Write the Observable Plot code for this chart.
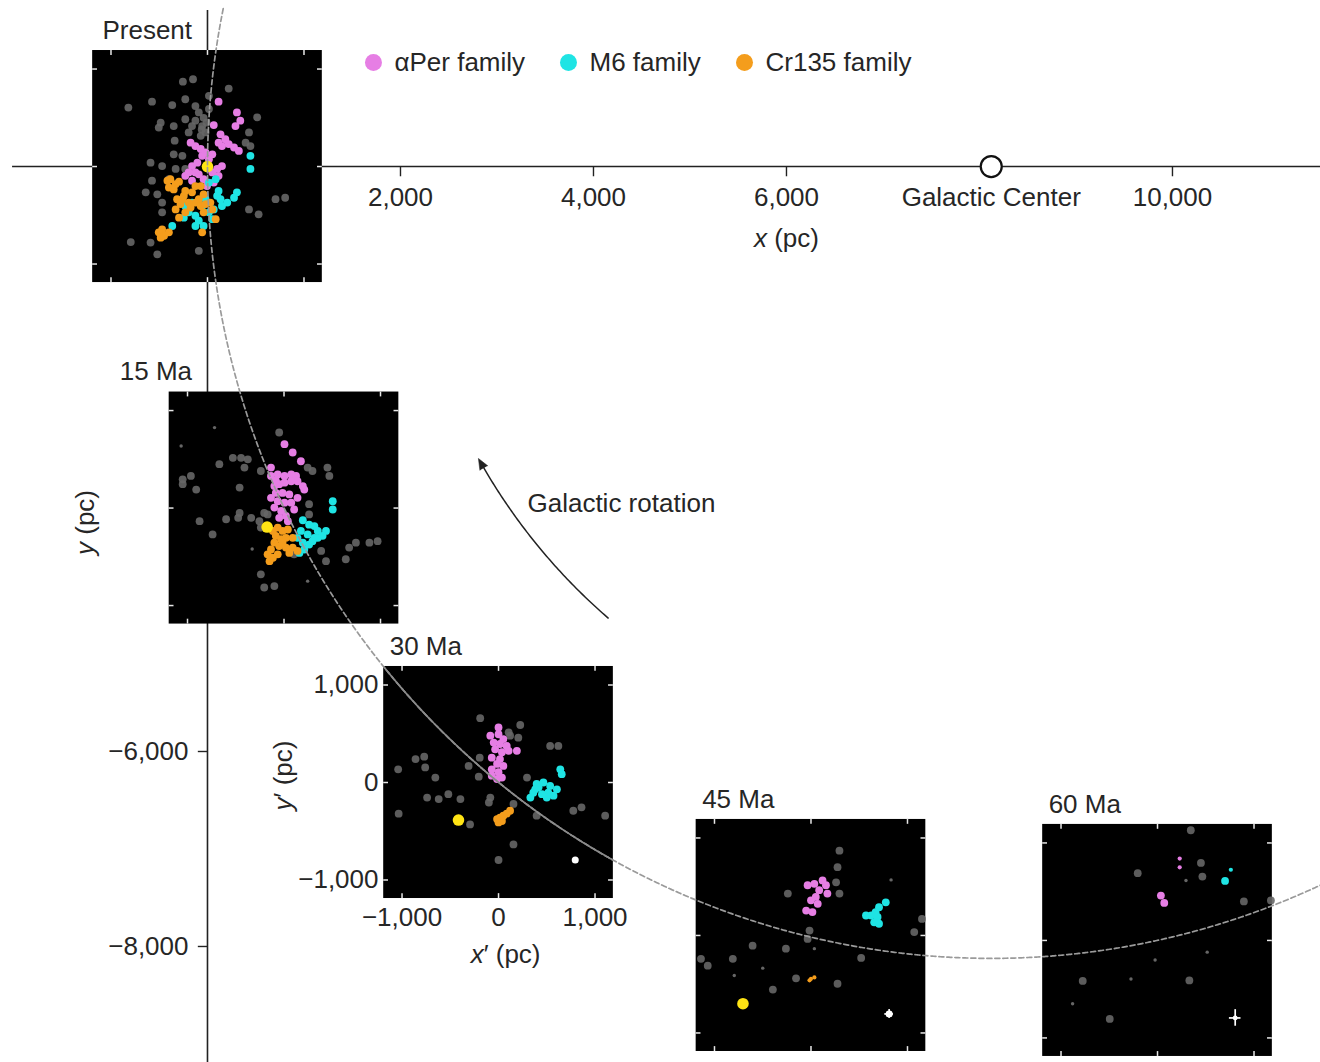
<!DOCTYPE html>
<html><head><meta charset="utf-8">
<script src="https://cdn.jsdelivr.net/npm/d3@7"></script>
<script src="https://cdn.jsdelivr.net/npm/@observablehq/plot@0.6"></script>
<style>
html,body{margin:0;padding:0;background:#fff}
#chart svg{display:block}
</style>
</head><body><div id="chart"></div>
<script>
// ---------------- DATA ----------------
const epochs = ["Present", "15 Ma", "30 Ma", "45 Ma", "60 Ma"];
// inset centres = Sun's position on its orbit at each epoch (pc)
const centerX = [0, 793, 3016, 6254, 9845];
const centerY = [0, -3503, -6318, -7887, -7938];
const galacticCenterX = 8122;           // Sun–GC distance (pc)
const xTicks = [2000, 4000, 6000, 10000];
const yTicks = [-6000, -8000];
const insetTicks = [-1000, 0, 1000];
const families = ["αPer family", "M6 family", "Cr135 family"];

// inset star positions x', y' (pc) per epoch
const field0 = [[-255,870],[-150,895],[-820,605],[-575,665],[-365,630],[-230,690],[220,800],[-485,450],[-505,400],[-350,415],[-230,485],[-125,620],[-90,555],[-160,415],[-55,415],[-20,350],[-70,315],[-195,350],[-125,470],[15,590],[15,725],[515,505],[430,350],[445,210],[395,245],[-340,265],[-350,125],[-260,110],[-590,40],[-470,5],[-575,-145],[-640,-265],[-520,-285],[-470,-370],[-470,-470],[705,-335],[805,-320],[430,-440],[530,-490],[-795,-775],[-590,-780],[-520,-900],[-90,-865],[-330,-25],[-230,-25],[-400,-130],[-40,500],[-10,450],[-60,380]];
const aPer0 = [[115,665],[305,555],[340,470],[290,415],[65,425],[135,330],[185,280],[220,230],[275,195],[325,160],[150,210],[115,245],[-175,245],[-125,210],[-70,180],[-20,145],[50,125],[15,75],[-105,40],[-160,5],[-125,-60],[-195,-60],[-90,-80],[-40,-130],[50,-60],[100,-25],[150,5],[115,-95],[65,-165],[-5,-200],[-55,110],[-230,-95],[-160,-145]];
const m6_0 = [[445,110],[445,-25],[115,-250],[100,-300],[135,-335],[305,-265],[275,-320],[205,-370],[150,-405],[65,-440],[15,-470],[-55,-405],[-160,-370],[-230,-405],[-195,-470],[-125,-505],[-90,-555],[-125,-610],[-40,-610],[-20,-335],[85,-130],[15,-165],[-365,-610],[-245,-525],[50,-540]];
const cr135_0 = [[-415,-145],[-385,-130],[-330,-180],[-295,-155],[-400,-215],[-350,-235],[-230,-250],[-245,-300],[-160,-265],[-90,-335],[-40,-285],[-125,-370],[-195,-370],[-260,-335],[-315,-335],[-330,-440],[-280,-385],[-175,-420],[-70,-405],[-20,-385],[30,-370],[50,-440],[-40,-470],[-295,-525],[-230,-470],[85,-540],[-470,-645],[-505,-675],[-450,-710],[-485,-730],[-400,-675],[-55,-675],[-70,-200],[-125,-200]];

const field1 = [[-1050,295],[-1050,245],[-965,330],[-910,190],[-670,450],[-530,515],[-445,515],[-375,500],[-410,415],[-460,210],[-240,380],[-50,775],[245,415],[295,380],[450,415],[470,330],[-875,-135],[-600,-115],[-460,-50],[-475,-100],[-340,-100],[-740,-270],[-255,-135],[-240,-200],[-170,-65],[-205,-50],[260,40],[260,-65],[385,-440],[435,-545],[640,-525],[745,-355],[885,-355],[970,-340],[675,-405],[-240,-680],[-205,-815],[-100,-800],[105,-475]];
const fieldSmall1 = [[-720,825],[-1066,636],[245,-750],[-330,-420]];
const aPer1 = [[5,655],[90,570],[175,480],[-135,415],[-135,330],[-65,345],[5,330],[75,345],[125,330],[140,275],[75,275],[5,260],[-50,245],[-100,225],[195,225],[210,190],[-85,155],[-15,155],[55,140],[-135,105],[-65,70],[5,55],[75,55],[105,-15],[-100,5],[-30,-30],[20,-80],[-50,-100],[40,-135],[140,105],[-85,280]];
const m6_1 = [[505,70],[505,-15],[195,-125],[260,-170],[315,-185],[350,-235],[435,-235],[400,-285],[315,-305],[245,-270],[175,-235],[140,-305],[195,-355],[260,-375],[210,-425],[160,-460],[350,-305],[295,-340]];
const cr135_1 = [[-115,-235],[-65,-200],[-15,-235],[40,-220],[-85,-285],[-30,-320],[20,-305],[90,-305],[-100,-355],[-50,-390],[20,-405],[90,-405],[140,-440],[55,-460],[-135,-425],[-170,-475],[-115,-510],[-150,-545],[-65,-475],[-15,-355]];

const field2 = [[-190,660],[225,590],[105,515],[205,460],[535,375],[620,375],[-860,240],[-770,265],[-760,155],[-1040,135],[-310,170],[-195,255],[-205,60],[-655,50],[295,50],[-740,-155],[-620,-170],[-520,-120],[-395,-170],[-85,-155],[-100,-205],[-1035,-320],[-295,-430],[155,-220],[395,-340],[775,-290],[860,-255],[1105,-340],[155,-635],[0,-795],[120,480]];
const aPer2 = [[0,565],[0,495],[-85,480],[50,445],[-50,410],[15,395],[85,375],[-35,340],[35,310],[105,325],[190,325],[-70,255],[15,240],[-15,190],[50,170],[-70,135],[0,105],[-70,70],[35,50],[-15,35]];
const m6_2 = [[640,135],[655,85],[395,-15],[465,0],[535,-35],[605,-70],[515,-105],[450,-120],[360,-105],[330,-155],[415,-50],[570,-135],[500,-155],[380,-70]];
const cr135_2 = [[120,-290],[85,-320],[50,-340],[15,-360],[0,-410],[35,-395],[-15,-375]];

const field3 = [[295,870],[275,700],[260,545],[295,430],[-240,430],[1150,170],[1070,35],[-15,50],[-35,-35],[-605,-105],[-260,-135],[-810,-240],[-1140,-240],[-1070,-310],[520,-230],[-155,-440],[275,-495],[-395,-555]];
const fieldSmall3 = [[830,570],[35,-135],[-500,-335],[-795,-410]];
const aPer3 = [[-35,515],[35,530],[120,565],[155,515],[85,465],[170,430],[50,395],[0,360],[70,325],[15,240],[-50,255]];
const m6_3 = [[775,340],[705,290],[670,240],[625,205],[690,190],[655,135],[705,120],[570,205]];
const cr135Small3 = [[0,-445],[35,-430],[-15,-460]];

const field4 = [[345,1130],[450,795],[465,655],[-205,690],[895,400],[1175,410],[-775,-415],[330,-410],[-495,-805]];
const fieldSmall4 = [[515,-120],[-880,-650],[-275,-395],[295,615],[-25,-200]];
const aPer4 = [[35,460],[70,385]];
const aPerSmall4 = [[230,840],[230,750]];
const m6_4 = [[700,610]];
const m6Small4 = [[760,725]];

// the Sun in the co-rotating frame (yellow)
const sunEpoch = [0, 1, 2, 3];
const sunDX = [0, -175, -415, -705];
const sunDY = [0, -195, -385, -700];

// typical uncertainty markers (white)
const errEpoch = [2, 3, 4];
const errDX = [795, 810, 805];
const errDY = [-795, -805, -795];
const errHalfX = [0, 45, 60];
const errHalfY = [0, 45, 85];

// ---------------- LAYOUT / STYLE ----------------
const W = 1320, H = 1062;
const X_DOMAIN = [-2145, 11534];
const Y_DOMAIN = [-9190, 1703];
const HALF = 1190;          // inset half size (pc)
const ITICK = 50;           // inset tick length (pc)
const FONT = 26;
const TXT = "#262626";
const COL = {field: "#666666", aPer: "#e67ee4", m6: "#1fe4e4", cr135: "#f49d1c", sun: "#ffe414"};
const DOT_R = 3.9;
const legendX = [1720, 3741, 5565];
const legendY = 1067;
const fmt = d3.format(",");

function pts(arr, e) { return arr.map(([dx, dy]) => ({e, dx, dy})); }
const px = d => centerX[d.e] + d.dx;
const py = d => centerY[d.e] + d.dy;

const fieldAll = [...pts(field0,0), ...pts(field1,1), ...pts(field2,2), ...pts(field3,3), ...pts(field4,4)];
const fieldSmallAll = [...pts(fieldSmall1,1), ...pts(fieldSmall3,3), ...pts(fieldSmall4,4)];
const aPerAll = [...pts(aPer0,0), ...pts(aPer1,1), ...pts(aPer2,2), ...pts(aPer3,3), ...pts(aPer4,4)];
const m6All = [...pts(m6_0,0), ...pts(m6_1,1), ...pts(m6_2,2), ...pts(m6_3,3), ...pts(m6_4,4)];
const cr135All = [...pts(cr135_0,0), ...pts(cr135_1,1), ...pts(cr135_2,2)];
const smallColored = [
  ...pts(cr135Small3,3).map(d => ({...d, c: COL.cr135})),
  ...pts(aPerSmall4,4).map(d => ({...d, c: COL.aPer})),
  ...pts(m6Small4,4).map(d => ({...d, c: COL.m6}))
];
const sun = sunEpoch.map((e, i) => ({e, dx: sunDX[i], dy: sunDY[i]}));
const errs = errEpoch.map((e, i) => ({e, dx: errDX[i], dy: errDY[i], hx: errHalfX[i], hy: errHalfY[i]}));

// Sun's circular orbit around the Galactic Centre
const R0 = galacticCenterX;
const rad = a => a * Math.PI / 180;
const orbit = d3.range(168.5, 300, 0.1).map(a => ({x: galacticCenterX + R0 * Math.cos(rad(a)), y: R0 * Math.sin(rad(a))}));
const orbitIn30 = orbit.filter(p => Math.abs(p.x - centerX[2]) < HALF && Math.abs(p.y - centerY[2]) < HALF);
// rotation arrow arc (centred on the Galactic Centre)
const RA = 6100, A0 = 229.4, A1 = 209.4;
const arrowArc = d3.range(A0, A1 - 0.01, -0.25).map(a => ({x: galacticCenterX + RA * Math.cos(rad(a)), y: RA * Math.sin(rad(a))}));
const tip = arrowArc[arrowArc.length - 1];
// tangent direction at the tip (decreasing angle), as compass bearing in screen space
const tdx = Math.sin(rad(A1)), tdy = -Math.cos(rad(A1));
const tipRotate = Math.atan2(tdx, tdy) * 180 / Math.PI;
const arrowBody = arrowArc.slice(0, -3);

const ins = epochs.map((name, i) => ({i, name}));
const tickSpecs = ins.flatMap(d => insetTicks.map(o => ({i: d.i, o})));

const chart = Plot.plot({
  width: W, height: H, margin: 0,
  x: {domain: X_DOMAIN, axis: null},
  y: {domain: Y_DOMAIN, axis: null},
  style: {fontFamily: "'Liberation Sans', Arial, Helvetica, sans-serif", fontSize: FONT + "px", background: "#fff", color: TXT},
  marks: [
    // main axes
    Plot.ruleY([0], {x1: -2020, x2: X_DOMAIN[1], stroke: "#222", strokeWidth: 1.6}),
    Plot.ruleX([0], {y1: 1600, y2: Y_DOMAIN[0], stroke: "#222", strokeWidth: 1.6}),
    Plot.ruleX(xTicks, {x: d => d, y1: 0, y2: -105, stroke: "#222", strokeWidth: 1.4}),
    Plot.ruleY(yTicks, {y: d => d, x1: -95, x2: 0, stroke: "#222", strokeWidth: 1.4}),
    Plot.text(xTicks, {x: d => d, y: 0, text: d => fmt(d), dy: 31, fontSize: FONT, fill: TXT}),
    Plot.text(yTicks, {x: 0, y: d => d, text: d => fmt(d), dx: -19, textAnchor: "end", fontSize: FONT, fill: TXT}),
    Plot.text(["Galactic Center"], {x: galacticCenterX, y: 0, text: d => d, dy: 31, fontSize: FONT, fill: TXT}),
    Plot.text(["x (pc)"], {x: 6000, y: 0, text: d => d, dy: 72, fontSize: FONT, fill: TXT}),
    Plot.text(["y (pc)"], {x: -1264, y: -3651, text: d => d, rotate: -90, fontSize: FONT, fill: TXT}),

    // inset frames
    Plot.rect(ins, {x1: d => centerX[d.i] - HALF, x2: d => centerX[d.i] + HALF, y1: d => centerY[d.i] - HALF, y2: d => centerY[d.i] + HALF, fill: "black"}),
    Plot.ruleX(tickSpecs, {x: d => centerX[d.i] + d.o, y1: d => centerY[d.i] + HALF, y2: d => centerY[d.i] + HALF - ITICK, stroke: "#e8e8e8", strokeWidth: 1.5}),
    Plot.ruleX(tickSpecs, {x: d => centerX[d.i] + d.o, y1: d => centerY[d.i] - HALF, y2: d => centerY[d.i] - HALF + ITICK, stroke: "#e8e8e8", strokeWidth: 1.5}),
    Plot.ruleY(tickSpecs, {y: d => centerY[d.i] + d.o, x1: d => centerX[d.i] - HALF, x2: d => centerX[d.i] - HALF + ITICK, stroke: "#e8e8e8", strokeWidth: 1.5}),
    Plot.ruleY(tickSpecs, {y: d => centerY[d.i] + d.o, x1: d => centerX[d.i] + HALF, x2: d => centerX[d.i] + HALF - ITICK, stroke: "#e8e8e8", strokeWidth: 1.5}),

    // stars
    Plot.dot(fieldAll, {x: px, y: py, r: DOT_R, fill: COL.field, fillOpacity: 0.9}),
    Plot.dot(fieldSmallAll, {x: px, y: py, r: 1.7, fill: COL.field}),
    Plot.dot(aPerAll, {x: px, y: py, r: DOT_R, fill: COL.aPer}),
    Plot.dot(m6All, {x: px, y: py, r: DOT_R, fill: COL.m6}),
    Plot.dot(cr135All, {x: px, y: py, r: DOT_R, fill: COL.cr135}),
    Plot.dot(smallColored, {x: px, y: py, r: 2.1, fill: d => d.c}),
    Plot.dot(sun, {x: px, y: py, r: 5.8, fill: COL.sun}),
    Plot.ruleX(errs, {x: px, y1: d => py(d) - d.hy, y2: d => py(d) + d.hy, stroke: "white", strokeWidth: 1.7}),
    Plot.ruleY(errs, {y: py, x1: d => px(d) - d.hx, x2: d => px(d) + d.hx, stroke: "white", strokeWidth: 1.7}),
    Plot.dot(errs, {x: px, y: py, r: d => d.e === 4 ? 1.6 : 3.4, fill: "white"}),

    // orbit
    Plot.line(orbit, {x: "x", y: "y", stroke: "#9a9a9a", strokeWidth: 1.7, strokeDasharray: "5,3", clip: true}),
    Plot.line(orbitIn30, {x: "x", y: "y", stroke: "#8a8a8a", strokeWidth: 1.7}),

    // Galactic Centre marker
    Plot.dot([galacticCenterX], {x: d => d, y: 0, r: 10.5, fill: "white", stroke: "#111", strokeWidth: 2.2}),

    // epoch labels
    Plot.text(ins.filter(d => d.i < 2), {x: -160, y: d => centerY[d.i] + HALF + 205, text: "name", textAnchor: "end", fontSize: FONT, fill: TXT}),
    Plot.text(ins.filter(d => d.i >= 2), {x: d => centerX[d.i] - HALF + 62, y: d => centerY[d.i] + HALF + 205, text: "name", textAnchor: "start", fontSize: FONT, fill: TXT}),

    // 30 Ma inset axes labels
    Plot.text(insetTicks, {x: centerX[2] - 1244, y: d => centerY[2] + d, text: d => fmt(d), textAnchor: "end", fontSize: FONT, fill: TXT}),
    Plot.text(insetTicks, {x: d => centerX[2] + d, y: centerY[2] - 1390, text: d => fmt(d), fontSize: FONT, fill: TXT}),
    Plot.text(["x′ (pc)"], {x: centerX[2] + 73, y: centerY[2] - 1764, text: d => d, fontSize: FONT, fill: TXT}),
    Plot.text(["y′ (pc)"], {x: centerX[2] - 2228, y: centerY[2] + 72, text: d => d, rotate: -90, fontSize: FONT, fill: TXT}),

    // galactic rotation arrow
    Plot.line(arrowBody, {x: "x", y: "y", stroke: "#222", strokeWidth: 1.5}),
    Plot.vector([tip], {x: "x", y: "y", rotate: tipRotate, length: 11, r: 4.5, shape: "spike", anchor: "end", fill: "#222", stroke: "#222", strokeWidth: 0.5}),
    Plot.text(["Galactic rotation"], {x: 3316, y: -3456, text: d => d, textAnchor: "start", fontSize: FONT, fill: TXT}),

    // legend
    Plot.dot([0], {x: legendX[0], y: legendY, r: 8.5, fill: COL.aPer}),
    Plot.dot([0], {x: legendX[1], y: legendY, r: 8.5, fill: COL.m6}),
    Plot.dot([0], {x: legendX[2], y: legendY, r: 8.5, fill: COL.cr135}),
    Plot.text(families, {x: (d, i) => legendX[i], y: legendY, text: d => d, dx: 21, textAnchor: "start", fontSize: FONT, fill: TXT})
  ]
});

// italicise the variable letters in axis titles
d3.select(chart).selectAll("text").each(function () {
  const m = /^([xy])(′?)( \(pc\))$/.exec(this.textContent);
  if (m) {
    const s = d3.select(this);
    s.text(null);
    s.append("tspan").attr("font-style", "italic").text(m[1]);
    s.append("tspan").text(m[2] + m[3]);
  }
});

document.getElementById("chart").appendChild(chart);
</script>
</body></html>
